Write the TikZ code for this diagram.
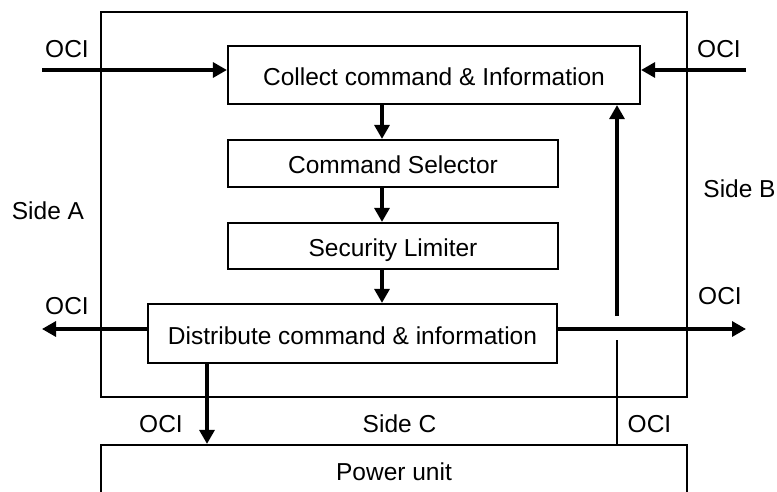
\documentclass[tikz,border=0pt]{standalone}
\usepackage{fontspec}
\setmainfont{Liberation Sans}
\usetikzlibrary{arrows.meta}
\begin{document}
\begin{tikzpicture}[x=1pt,y=-1pt,
  every node/.style={font=\fontsize{24.5pt}{29pt}\selectfont},
  box/.style={draw,line width=2.2pt,inner sep=0pt,text height=21pt,text depth=0pt},
  frame/.style={draw,line width=2.2pt,inner sep=0pt},
  lbl/.style={anchor=base,inner sep=0pt},
  arr/.style={line width=3.2pt,-{Triangle[length=14pt,width=15pt]}},
  thinline/.style={line width=2.2pt}]
\useasboundingbox (0,0) rectangle (777,492);
\fill[white] (0,0) rectangle (777,492);
% outer frame and power unit
\node[frame,minimum width=586pt,minimum height=385pt] (outer) at (394,204.5) {};
\node[box,minimum width=586pt,minimum height=50pt] (power) at (394,470) {Power unit};
% inner boxes
\node[box,minimum width=412pt,minimum height=58pt] (collect) at (434,75) {Collect command \& Information};
\node[box,minimum width=330pt,minimum height=47pt] (selector) at (393,163.5) {Command Selector};
\node[box,minimum width=330pt,minimum height=46pt] (limiter) at (393,246) {Security Limiter};
\node[box,minimum width=409pt,minimum height=59pt] (distribute) at (352.5,333.5) {Distribute command \& information};
% labels
\node[lbl] (ocitl) at (67,58) {OCI};
\node[lbl] (ocitr) at (719,58) {OCI};
\node[lbl] (sidea) at (48,219) {Side A};
\node[lbl] (sideb) at (739.5,197) {Side B};
\node[lbl] (ociml) at (67,314) {OCI};
\node[lbl] (ocimr) at (720,304) {OCI};
\node[lbl] (ocibl) at (161,432) {OCI};
\node[lbl] (sidec) at (399.5,432) {Side C};
\node[lbl] (ocibr) at (649.5,432) {OCI};
% helper coordinates
\coordinate (inL) at (42,70);
\coordinate (inR) at (746,70);
\coordinate (outL) at (42,329);
\coordinate (outR) at (746,329);
\coordinate (xc) at (382,0);
\coordinate (xd) at (207,0);
\coordinate (xf) at (617,0);
\coordinate (gapLow) at (617,340);
\coordinate (gapHigh) at (617,316);
% connectors
\draw[arr] (inL) -- (inL -| collect.west);
\draw[arr] (inR) -- (inR -| collect.east);
\draw[arr] (collect.south -| xc) -- (selector.north -| xc);
\draw[arr] (selector.south -| xc) -- (limiter.north -| xc);
\draw[arr] (limiter.south -| xc) -- (distribute.north -| xc);
\draw[arr] (outL -| distribute.west) -- (outL);
\draw[arr] (outR -| distribute.east) -- (outR);
\draw[arr] (distribute.south -| xd) -- (power.north -| xd);
\draw[thinline] (power.north -| xf) -- (gapLow);
\draw[arr] (gapHigh) -- (collect.south -| xf);
\end{tikzpicture}
\end{document}
